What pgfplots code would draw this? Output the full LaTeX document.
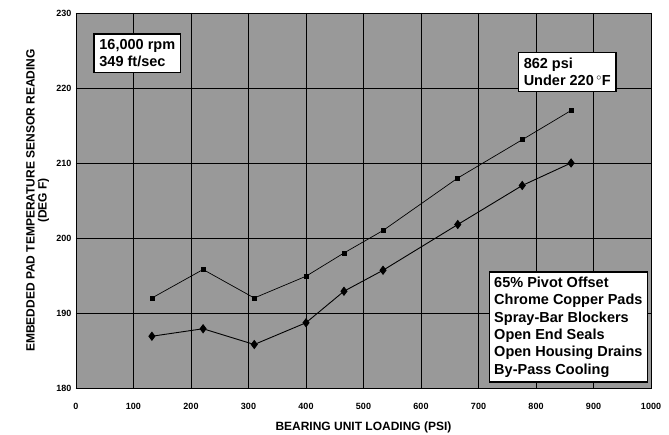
\documentclass[border=0pt]{standalone}
\usepackage{pgfplots}
\pgfplotsset{compat=1.18}
\usepackage{fontspec}
\setmainfont{Liberation Sans}
\definecolor{bg}{gray}{0.6}
\begin{document}
\begin{tikzpicture}
\begin{axis}[
  scale only axis, width=575pt, height=375pt,
  xmin=0, xmax=1000, ymin=180, ymax=230,
  xtick={0,100,...,1000}, ytick={180,190,...,230},
  grid=major, grid style={black, line width=0.7pt},
  axis line style={black, line width=0.9pt},
  axis background/.style={fill=bg},
  tick style={black}, major tick length=3pt,
  tick label style={font=\fontsize{9}{10}\selectfont\bfseries},
  /pgf/number format/assume math mode=true,
  /pgf/number format/1000 sep={},
  xticklabel style={yshift=-12pt},
  yticklabel style={xshift=-1pt},
  xlabel={\bfseries BEARING UNIT LOADING (PSI)},
  xlabel style={font=\fontsize{12}{14}\selectfont, yshift=-5pt},
  ylabel={\bfseries\begin{tabular}{c}EMBEDDED PAD TEMPERATURE SENSOR READING\\[-1pt](DEG F)\end{tabular}},
  ylabel style={font=\fontsize{12}{13}\selectfont, yshift=-1pt},
  clip=false,
]
\addplot[black, line width=0.7pt, mark=square*, mark size=2pt] coordinates {
(132,192) (221,195.8) (310,192) (400,194.9) (466,198) (534,201) (664,208) (776,213.1) (861,217)};
\addplot[black, line width=0.9pt, mark=diamond*, mark size=4pt] coordinates {
(132,186.9) (221,187.9) (310,185.8) (400,188.7) (466,192.9) (534,195.7) (664,201.8) (776,207) (861,210)};
\node[draw=black, line width=1.3pt, fill=white, align=left, anchor=north west, inner sep=5.5pt,
  font=\fontsize{14.5}{17}\selectfont\bfseries] at (axis cs:30,227.3) {16,000 rpm\\349 ft/sec};
\node[draw=black, line width=1.3pt, fill=white, align=left, anchor=north west, inner sep=5.5pt,
  font=\fontsize{14.5}{17}\selectfont\bfseries] at (axis cs:768,224.8) {862 psi\\Under 220\,$^{\circ}$F};
\node[draw=black, line width=1.3pt, fill=white, align=left, anchor=south east, inner sep=5pt,
  font=\fontsize{14.5}{17.3}\selectfont\bfseries] at (axis cs:995,180.7) {65\% Pivot Offset\\Chrome Copper Pads\\Spray-Bar Blockers\\Open End Seals\\Open Housing Drains\\By-Pass Cooling};
\coordinate (o) at (axis cs:0,180);
\end{axis}
\pgfresetboundingbox
\path (o) ++(-76pt,-46pt) rectangle ++(669pt,434pt);
\end{tikzpicture}
\end{document}
